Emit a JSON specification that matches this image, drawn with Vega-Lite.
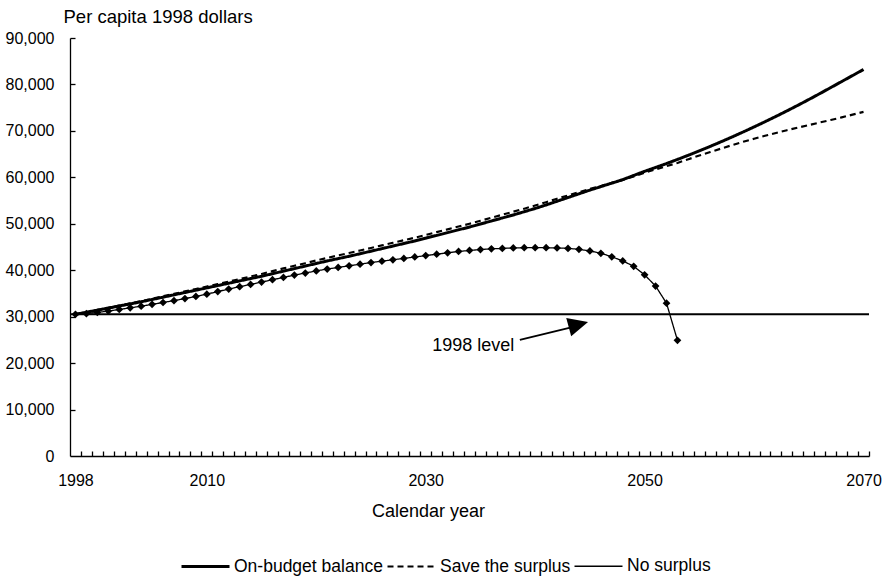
{
  "$schema": "https://vega.github.io/schema/vega-lite/v6.json",
  "autosize": "none",
  "width": 799,
  "height": 418,
  "padding": {"left": 70, "top": 38, "right": 17, "bottom": 121},
  "background": "white",
  "config": {
    "font": "Liberation Sans",
    "view": {"stroke": null},
    "axis": {"grid": false, "domainColor": "black", "tickColor": "black", "labelColor": "black", "titleColor": "black", "labelFont": "Liberation Sans", "titleFont": "Liberation Sans", "titleFontWeight": "normal"}
  },
  "resolve": {"axis": {"x": "independent", "y": "independent"}},
  "datasets": {
    "series": [
      {"year": 1998, "On-budget balance": 30500, "Save the surplus": 30500, "No surplus": 30500},
      {"year": 1999, "On-budget balance": 30950, "Save the surplus": 30950, "No surplus": 30650},
      {"year": 2000, "On-budget balance": 31400, "Save the surplus": 31450, "No surplus": 30900},
      {"year": 2001, "On-budget balance": 31850, "Save the surplus": 31900, "No surplus": 31200},
      {"year": 2002, "On-budget balance": 32300, "Save the surplus": 32400, "No surplus": 31550},
      {"year": 2003, "On-budget balance": 32750, "Save the surplus": 32850, "No surplus": 31900},
      {"year": 2004, "On-budget balance": 33200, "Save the surplus": 33350, "No surplus": 32250},
      {"year": 2005, "On-budget balance": 33700, "Save the surplus": 33850, "No surplus": 32650},
      {"year": 2006, "On-budget balance": 34200, "Save the surplus": 34400, "No surplus": 33050},
      {"year": 2007, "On-budget balance": 34700, "Save the surplus": 34900, "No surplus": 33450},
      {"year": 2008, "On-budget balance": 35200, "Save the surplus": 35450, "No surplus": 33900},
      {"year": 2009, "On-budget balance": 35700, "Save the surplus": 35950, "No surplus": 34350},
      {"year": 2010, "On-budget balance": 36200, "Save the surplus": 36500, "No surplus": 34850},
      {"year": 2011, "On-budget balance": 36700, "Save the surplus": 37000, "No surplus": 35400},
      {"year": 2012, "On-budget balance": 37200, "Save the surplus": 37550, "No surplus": 35950},
      {"year": 2013, "On-budget balance": 37700, "Save the surplus": 38100, "No surplus": 36450},
      {"year": 2014, "On-budget balance": 38200, "Save the surplus": 38650, "No surplus": 36950},
      {"year": 2015, "On-budget balance": 38700, "Save the surplus": 39200, "No surplus": 37450},
      {"year": 2016, "On-budget balance": 39250, "Save the surplus": 39800, "No surplus": 37950},
      {"year": 2017, "On-budget balance": 39800, "Save the surplus": 40400, "No surplus": 38450},
      {"year": 2018, "On-budget balance": 40350, "Save the surplus": 40950, "No surplus": 38950},
      {"year": 2019, "On-budget balance": 40900, "Save the surplus": 41500, "No surplus": 39400},
      {"year": 2020, "On-budget balance": 41450, "Save the surplus": 42100, "No surplus": 39850},
      {"year": 2021, "On-budget balance": 42000, "Save the surplus": 42650, "No surplus": 40250},
      {"year": 2022, "On-budget balance": 42500, "Save the surplus": 43200, "No surplus": 40600},
      {"year": 2023, "On-budget balance": 43000, "Save the surplus": 43700, "No surplus": 40950},
      {"year": 2024, "On-budget balance": 43550, "Save the surplus": 44250, "No surplus": 41300},
      {"year": 2025, "On-budget balance": 44100, "Save the surplus": 44800, "No surplus": 41650},
      {"year": 2026, "On-budget balance": 44650, "Save the surplus": 45350, "No surplus": 41950},
      {"year": 2027, "On-budget balance": 45200, "Save the surplus": 45900, "No surplus": 42250},
      {"year": 2028, "On-budget balance": 45750, "Save the surplus": 46450, "No surplus": 42550},
      {"year": 2029, "On-budget balance": 46300, "Save the surplus": 47000, "No surplus": 42850},
      {"year": 2030, "On-budget balance": 46900, "Save the surplus": 47600, "No surplus": 43150},
      {"year": 2031, "On-budget balance": 47500, "Save the surplus": 48200, "No surplus": 43450},
      {"year": 2032, "On-budget balance": 48100, "Save the surplus": 48800, "No surplus": 43750},
      {"year": 2033, "On-budget balance": 48700, "Save the surplus": 49400, "No surplus": 44050},
      {"year": 2034, "On-budget balance": 49300, "Save the surplus": 50000, "No surplus": 44250},
      {"year": 2035, "On-budget balance": 49950, "Save the surplus": 50650, "No surplus": 44450},
      {"year": 2036, "On-budget balance": 50600, "Save the surplus": 51300, "No surplus": 44600},
      {"year": 2037, "On-budget balance": 51250, "Save the surplus": 51950, "No surplus": 44700},
      {"year": 2038, "On-budget balance": 51900, "Save the surplus": 52600, "No surplus": 44800},
      {"year": 2039, "On-budget balance": 52600, "Save the surplus": 53250, "No surplus": 44850},
      {"year": 2040, "On-budget balance": 53300, "Save the surplus": 53950, "No surplus": 44850},
      {"year": 2041, "On-budget balance": 54050, "Save the surplus": 54650, "No surplus": 44850},
      {"year": 2042, "On-budget balance": 54850, "Save the surplus": 55400, "No surplus": 44800},
      {"year": 2043, "On-budget balance": 55650, "Save the surplus": 56100, "No surplus": 44700},
      {"year": 2044, "On-budget balance": 56450, "Save the surplus": 56800, "No surplus": 44500},
      {"year": 2045, "On-budget balance": 57250, "Save the surplus": 57500, "No surplus": 44150},
      {"year": 2046, "On-budget balance": 58000, "Save the surplus": 58150, "No surplus": 43650},
      {"year": 2047, "On-budget balance": 58750, "Save the surplus": 58800, "No surplus": 42900},
      {"year": 2048, "On-budget balance": 59500, "Save the surplus": 59450, "No surplus": 42000},
      {"year": 2049, "On-budget balance": 60400, "Save the surplus": 60200, "No surplus": 40850},
      {"year": 2050, "On-budget balance": 61300, "Save the surplus": 61000, "No surplus": 39000},
      {"year": 2051, "On-budget balance": 62120, "Save the surplus": 61700, "No surplus": 36600},
      {"year": 2052, "On-budget balance": 62970, "Save the surplus": 62400, "No surplus": 32900},
      {"year": 2053, "On-budget balance": 63850, "Save the surplus": 63100, "No surplus": 24900},
      {"year": 2054, "On-budget balance": 64760, "Save the surplus": 63900},
      {"year": 2055, "On-budget balance": 65700, "Save the surplus": 64700},
      {"year": 2056, "On-budget balance": 66670, "Save the surplus": 65450},
      {"year": 2057, "On-budget balance": 67670, "Save the surplus": 66200},
      {"year": 2058, "On-budget balance": 68700, "Save the surplus": 66950},
      {"year": 2059, "On-budget balance": 69760, "Save the surplus": 67650},
      {"year": 2060, "On-budget balance": 70850, "Save the surplus": 68300},
      {"year": 2061, "On-budget balance": 71970, "Save the surplus": 68950},
      {"year": 2062, "On-budget balance": 73120, "Save the surplus": 69550},
      {"year": 2063, "On-budget balance": 74300, "Save the surplus": 70150},
      {"year": 2064, "On-budget balance": 75510, "Save the surplus": 70700},
      {"year": 2065, "On-budget balance": 76750, "Save the surplus": 71250},
      {"year": 2066, "On-budget balance": 78020, "Save the surplus": 71800},
      {"year": 2067, "On-budget balance": 79320, "Save the surplus": 72350},
      {"year": 2068, "On-budget balance": 80620, "Save the surplus": 72900},
      {"year": 2069, "On-budget balance": 81920, "Save the surplus": 73500},
      {"year": 2070, "On-budget balance": 83220, "Save the surplus": 74100}
    ],
    "level": [{"level": 30500}],
    "arrow": [{"x1": 2038.6, "y1": 25000, "x2": 2043.3, "y2": 27700, "tipx": 2044.83, "tipy": 28850, "label": "1998 level", "lx": 2038.1, "ly": 22600}]
  },
  "layer": [
    {
      "data": {"name": "level"},
      "mark": {"type": "rule", "color": "black", "strokeWidth": 2},
      "encoding": {
        "y": {"field": "level", "type": "quantitative", "scale": {"domain": [0, 90000], "nice": false}, "axis": null}
      }
    },
    {
      "data": {"name": "series"},
      "transform": [
        {"fold": ["On-budget balance", "Save the surplus", "No surplus"], "as": ["series", "value"]},
        {"filter": "isValid(datum.value)"}
      ],
      "mark": {"type": "line", "color": "black", "strokeJoin": "round"},
      "encoding": {
        "x": {
          "field": "year", "type": "quantitative",
          "scale": {"domain": [1997.5, 2070.5], "nice": false, "zero": false},
          "axis": {
            "title": "Calendar year", "titleFontSize": 18, "titleX": 358, "titleY": 60, "titleAlign": "center", "titleBaseline": "alphabetic",
            "values": [1998, 2010, 2030, 2050, 2070], "format": "d",
            "labelFlush": false, "labelOverlap": false, "labelBound": false,
            "labelFontSize": 16, "labelPadding": 16, "ticks": false, "domainWidth": 1.3
          }
        },
        "y": {
          "field": "value", "type": "quantitative",
          "scale": {"domain": [0, 90000], "nice": false},
          "axis": {
            "values": [0, 10000, 20000, 30000, 40000, 50000, 60000, 70000, 80000, 90000],
            "format": ",d", "title": "Per capita 1998 dollars", "titleAngle": 0, "titleX": -7, "titleY": -16,
            "titleAlign": "left", "titleBaseline": "alphabetic", "titleFontSize": 18.5,
            "labelFontSize": 16, "labelPadding": 16, "ticks": false, "labelFlush": false, "domainWidth": 1.3
          }
        },
        "strokeDash": {
          "field": "series", "type": "nominal",
          "scale": {"domain": ["On-budget balance", "Save the surplus", "No surplus"], "range": [[1, 0], [6, 4], [1, 0]]},
          "legend": {
            "title": null, "orient": "none", "legendX": 110, "legendY": 503, "direction": "horizontal",
            "columns": 3, "columnPadding": 0, "labelOffset": 3, "labelFontSize": 17.5, "labelFont": "Liberation Sans",
            "labelColor": "black", "symbolSize": 2304, "padding": 0, "labelLimit": 0,
            "encode": {
              "symbols": {
                "shape": {"condition": {"test": "datum.value === 'No surplus'", "value": "M-1,0L1,0M0,-0.18L0.18,0L0,0.18L-0.18,0Z"}, "value": "stroke"},
                "fill": {"value": "black"},
                "stroke": {"value": "black"},
                "strokeDash": {"condition": {"test": "datum.value === 'Save the surplus'", "value": [6, 4]}, "value": [1, 0]},
                "strokeWidth": {"condition": {"test": "datum.value === 'On-budget balance'", "value": 3}, "value": 1.5},
                "opacity": {"value": 1}
              }
            }
          }
        },
        "strokeWidth": {
          "field": "series", "type": "nominal",
          "scale": {"domain": ["On-budget balance", "Save the surplus", "No surplus"], "range": [3, 1.3, 1.8]},
          "legend": null
        }
      }
    },
    {
      "data": {"name": "series"},
      "transform": [
        {"fold": ["No surplus"], "as": ["series", "value"]},
        {"filter": "isValid(datum.value)"}
      ],
      "mark": {"type": "point", "shape": "diamond", "filled": true, "color": "black", "size": 60, "opacity": 1},
      "encoding": {
        "x": {
          "field": "year", "type": "quantitative",
          "axis": {
            "orient": "top", "offset": -418, "title": null, "labels": false, "domain": false, "ticks": true, "tickSize": 5, "tickWidth": 1.3, "tickColor": "black",
            "values": [1998.5,1999.5,2000.5,2001.5,2002.5,2003.5,2004.5,2005.5,2006.5,2007.5,2008.5,2009.5,2010.5,2011.5,2012.5,2013.5,2014.5,2015.5,2016.5,2017.5,2018.5,2019.5,2020.5,2021.5,2022.5,2023.5,2024.5,2025.5,2026.5,2027.5,2028.5,2029.5,2030.5,2031.5,2032.5,2033.5,2034.5,2035.5,2036.5,2037.5,2038.5,2039.5,2040.5,2041.5,2042.5,2043.5,2044.5,2045.5,2046.5,2047.5,2048.5,2049.5,2050.5,2051.5,2052.5,2053.5,2054.5,2055.5,2056.5,2057.5,2058.5,2059.5,2060.5,2061.5,2062.5,2063.5,2064.5,2065.5,2066.5,2067.5,2068.5,2069.5,2070.5]
          }
        },
        "y": {
          "field": "value", "type": "quantitative",
          "axis": {
            "orient": "right", "offset": -799, "title": null, "labels": false, "domain": false, "ticks": true, "tickSize": 5, "tickWidth": 1.3, "tickColor": "black",
            "values": [10000, 20000, 30000, 40000, 50000, 60000, 70000, 80000, 90000]
          }
        }
      }
    },
    {
      "data": {"name": "arrow"},
      "mark": {"type": "rule", "color": "black", "strokeWidth": 2},
      "encoding": {
        "x": {"field": "x1", "type": "quantitative", "axis": null},
        "y": {"field": "y1", "type": "quantitative", "axis": null},
        "x2": {"field": "x2"},
        "y2": {"field": "y2"}
      }
    },
    {
      "data": {"name": "arrow"},
      "mark": {"type": "point", "shape": "M0,0L-2,-0.95L-2,0.95Z", "filled": true, "color": "black", "size": 400, "angle": -15, "opacity": 1},
      "encoding": {
        "x": {"field": "tipx", "type": "quantitative", "axis": null},
        "y": {"field": "tipy", "type": "quantitative", "axis": null}
      }
    },
    {
      "data": {"name": "arrow"},
      "mark": {"type": "text", "align": "right", "baseline": "alphabetic", "fontSize": 18, "font": "Liberation Sans", "color": "black"},
      "encoding": {
        "x": {"field": "lx", "type": "quantitative", "axis": null},
        "y": {"field": "ly", "type": "quantitative", "axis": null},
        "text": {"field": "label"}
      }
    }
  ]
}
